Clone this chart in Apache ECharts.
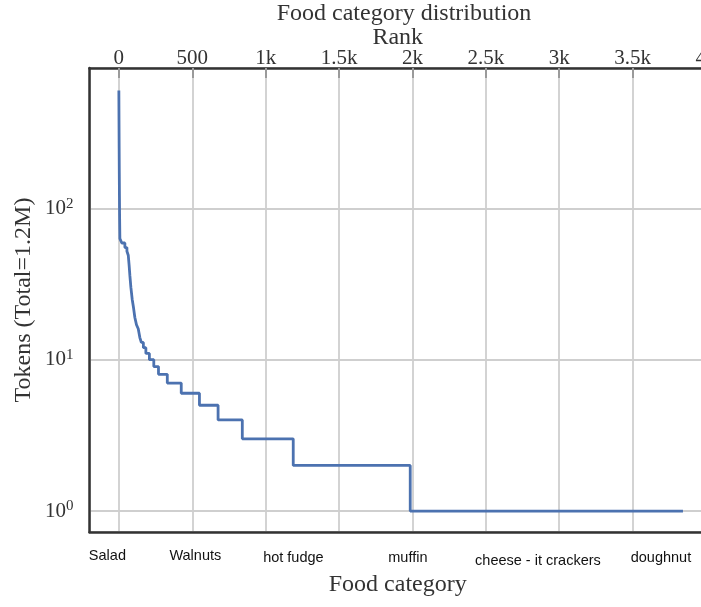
<!DOCTYPE html>
<html><head><meta charset="utf-8">
<script src="https://cdn.jsdelivr.net/npm/echarts@6/dist/echarts.min.js"></script>
<style>html,body{margin:0;padding:0;background:#fff}#c{width:701px;height:607px}</style>
</head><body><div id="c"></div>
<script>
// Rank-frequency data (start rank of each level, token count)
const ranks  = [0, 1, 2, 3, 4, 5, 7, 20, 41, 55, 64, 70, 75, 82, 91, 100, 109, 120, 132, 143, 153, 167, 184, 208, 238, 270, 330, 425, 549, 676, 841, 1188, 1985, 3843];
const tokens = [600, 380, 250, 170, 120, 90, 63, 59, 55, 52, 49, 42, 36, 30, 25, 22, 19, 17, 16, 14, 13, 12, 11, 10, 9, 8, 7, 6, 5, 4, 3, 2, 1, 1];

// Top axis tick labels
const rankTicks = [0, 500, 1000, 1500, 2000, 2500, 3000, 3500, 4000];
const rankTickLabels = ['0', '500', '1k', '1.5k', '2k', '2.5k', '3k', '3.5k', '4k'];

// Bottom axis food category labels
const foodLabels = ['Salad', 'Walnuts', 'hot fudge', 'muffin', 'cheese - it crackers', 'doughnut'];
const foodLabelRanks = [-78, 521, 1189, 1969, 2855, 3693];

// Y axis exponents
const yExponents = [0, 1, 2];

const textColor = '#333';
const serif = 'Liberation Serif';
const foodOffsets = [0, 0, 2, 2, 5, 2];
const foodRich = {};
foodOffsets.forEach((o, i) => {
  foodRich['f' + i] = {fontFamily: 'Liberation Sans', fontSize: 14.5, color: '#111', padding: [o, 0, 0, 0]};
});

const chart = echarts.init(document.getElementById('c'), null, {renderer: 'canvas'});
chart.setOption({
  animation: false,
  backgroundColor: '#fff',
  title: {
    text: 'Food category distribution',
    left: 399, top: -3, textAlign: 'center',
    textStyle: {fontFamily: serif, fontSize: 24, fontWeight: 'normal', color: textColor}
  },
  grid: {left: 89.5, width: 616.5, top: 68, bottom: 75, containLabel: false, outerBoundsMode: 'none'},
  xAxis: [{
    type: 'value', position: 'top', min: -200, max: 4000, splitNumber: 8,
    name: 'Rank', nameLocation: 'middle', nameGap: 18, nameMoveOverlap: false,
    nameTextStyle: {fontFamily: serif, fontSize: 24, color: textColor},
    axisLine: {show: true, onZero: false, lineStyle: {color: '#333', width: 2.5}},
    axisTick: {show: true, inside: true, length: 10, lineStyle: {color: '#9a9a9a', width: 2}},
    splitLine: {show: true, lineStyle: {color: '#cfcfcf', width: 1.8}},
    axisLabel: {
      margin: -1, fontFamily: serif, fontSize: 21, color: textColor,
      showMinLabel: false, showMaxLabel: true, hideOverlap: false,
      formatter: v => { const i = rankTicks.indexOf(v); return i >= 0 ? rankTickLabels[i] : ''; }
    }
  }, {
    type: 'value', position: 'bottom', min: -200, max: 4000,
    name: 'Food category', nameLocation: 'middle', nameGap: 41, nameMoveOverlap: false,
    nameTextStyle: {fontFamily: serif, fontSize: 24, color: textColor},
    axisLine: {show: true, onZero: false, lineStyle: {color: '#333', width: 2.5}},
    axisTick: {show: false},
    splitLine: {show: false},
    axisLabel: {
      margin: 16, customValues: foodLabelRanks,
      formatter: v => { const i = foodLabelRanks.indexOf(v); return i >= 0 ? '{f' + i + '|' + foodLabels[i] + '}' : ''; },
      rich: foodRich
    }
  }],
  yAxis: {
    type: 'log', logBase: 10, min: 0.727, max: 845,
    name: 'Tokens (Total=1.2M)', nameLocation: 'middle', nameGap: 54, nameMoveOverlap: false,
    nameTextStyle: {fontFamily: serif, fontSize: 24, color: textColor},
    axisLine: {show: true, onZero: false, lineStyle: {color: '#333', width: 2.5}},
    axisTick: {show: false},
    splitLine: {show: true, lineStyle: {color: '#cfcfcf', width: 1.8}},
    axisLabel: {
      margin: 16, showMinLabel: false, showMaxLabel: false,
      formatter: v => {
        const e = Math.round(Math.log10(v));
        return yExponents.indexOf(e) >= 0 && Math.abs(Math.pow(10, e) - v) < 1e-6 * v ? '{b|10}{s|' + e + '}' : '';
      },
      rich: {
        b: {fontFamily: serif, fontSize: 21, color: textColor, lineHeight: 24},
        s: {fontFamily: serif, fontSize: 15, color: textColor, lineHeight: 15, verticalAlign: 'top'}
      }
    }
  },
  series: [{
    type: 'line', step: 'end', xAxisIndex: 0, yAxisIndex: 0,
    showSymbol: false, symbol: 'none',
    lineStyle: {color: '#4c72b0', width: 2.8},
    data: ranks.map((r, i) => [r, tokens[i]])
  }]
});
</script>
</body></html>
